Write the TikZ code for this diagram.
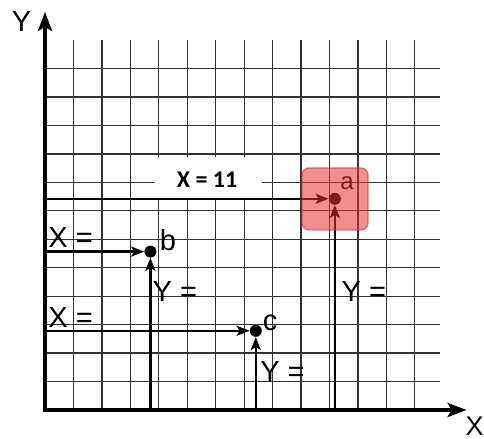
\documentclass[tikz,border=0pt]{standalone}
\usepackage{fontspec}
\setmainfont{Liberation Sans}
\newfontfamily\calfont{Carlito}
\usetikzlibrary{arrows.meta}
\begin{document}
\begin{tikzpicture}[x=26.35pt,y=26.4pt,
  gridline/.style={draw=black!80,line width=1.2pt},
  axisline/.style={line width=3.6pt,{Stealth[length=19pt,width=14pt,inset=4pt]}-{Stealth[length=19pt,width=14pt,inset=4pt]}},
  guide/.style={line width=2.4pt,-{Stealth[length=13pt,width=10pt,inset=3pt]}},
  dot/.style={circle,fill=black,inner sep=0pt,minimum size=12pt},
  lbl/.style={inner sep=0pt,font=\fontsize{29}{29}\selectfont},
  ptlbl/.style={inner sep=0pt,font=\fontsize{29}{29}\selectfont},
  hilite/.style={rounded corners=7pt,fill={rgb,255:red,235;green,50;blue,50},fill opacity=0.55,draw={rgb,255:red,200;green,50;blue,50},draw opacity=0.6,line width=1.3pt}]
\useasboundingbox (-1.708,-1.098) rectangle (16.66,15.53);
% grid
\draw[gridline] (0,0) grid (15,14);
% white label box
\fill[white] (4.17,8.03) rectangle (8.24,9.58);
\node[inner sep=0pt,font=\calfont\bfseries\fontsize{24}{24}\selectfont] (xeleven) at (6.15,8.71) {X = 11};
% axes
\coordinate (ytop) at (0,15.08);
\coordinate (orig) at (0,0);
\coordinate (xend) at (16.0,0);
\draw[axisline] (ytop) -- (orig) -- (xend);
\node[lbl] (ylab) at (-0.89,14.73) {Y};
\node[lbl,font=\fontsize{27}{27}\selectfont] (xlab) at (16.3,-0.62) {X};
% points
\node[dot] (a) at (11,8) {};
\node[dot] (b) at (4,6) {};
\node[dot] (c) at (8,3) {};
\coordinate (ay) at (0,8);
\coordinate (ax) at (11,0);
\coordinate (by) at (0,6);
\coordinate (bx) at (4,0);
\coordinate (cy) at (0,3);
\coordinate (cx) at (8,0);
\draw[guide] (ay) -- (a);
\draw[guide] (ax) -- (a);
\draw[guide] (by) -- (b);
\draw[guide] (bx) -- (b);
\draw[guide] (cy) -- (c);
\draw[guide] (cx) -- (c);
% labels
\node[lbl] (xb) at (0.97,6.53) {X =};
\node[lbl] (xc) at (0.97,3.5) {X =};
\node[lbl] (yb) at (4.93,4.5) {Y =};
\node[lbl] (yc) at (9.01,1.45) {Y =};
\node[lbl] (ya) at (12.1,4.5) {Y =};
\node[ptlbl] (blab) at (4.67,6.42) {b};
\node[ptlbl] (clab) at (8.54,3.3) {c};
\node[inner sep=0pt,font=\fontsize{24}{24}\selectfont] (alab) at (11.46,8.6) {a};
% highlight
\draw[hilite] (9.75,6.82) rectangle (12.26,9.17);
\end{tikzpicture}
\end{document}
